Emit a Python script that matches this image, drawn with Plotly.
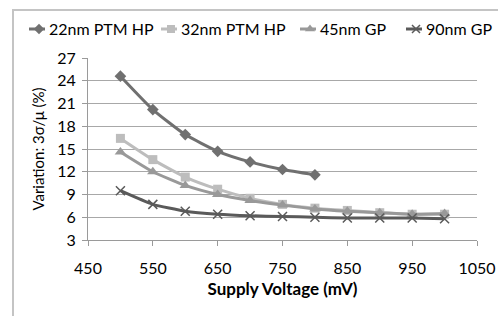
import plotly.graph_objects as go

# ---- data ----
voltage = [500, 550, 600, 650, 700, 750, 800, 850, 900, 950, 1000]
v22 = [24.6, 20.2, 16.9, 14.7, 13.3, 12.3, 11.6]
v32 = [16.4, 13.6, 11.3, 9.7, 8.5, 7.7, 7.2, 6.9, 6.6, 6.4, 6.4]
v45 = [14.6, 12.0, 10.2, 9.0, 8.2, 7.6, 7.1, 6.8, 6.6, 6.4, 6.5]
v90 = [9.5, 7.7, 6.8, 6.4, 6.2, 6.1, 6.0, 5.9, 5.9, 5.9, 5.8]
names = ["22nm PTM HP", "32nm PTM HP", "45nm GP", "90nm GP"]
x_ticks = [450, 550, 650, 750, 850, 950, 1050]
y_ticks = [3, 6, 9, 12, 15, 18, 21, 24, 27]

# ---- styling ----
FONT = "Lato"
colors = ["#707070", "#bdbdbd", "#999999", "#5a5a5a"]
symbols = ["diamond", "square", "triangle-up", "x-thin"]
msizes = [9, 9, 10, 9]
series_y = [v22, v32, v45, v90]

W, H = 498, 316
L, R, T, B = 15, 0, 12, 0
pw, ph = W - L - R, H - T - B
AX0, AX1, AY0, AY1 = 88, 477, 58, 240  # main chart area (pixels)
xdom = [(AX0 - L) / pw, (AX1 - L) / pw]
ydom = [(H - AY1) / ph, (H - AY0) / ph]
LY0, LY1 = 14, 44                    # legend strip (pixels)
legend_text_x = [47, 179, 318, 424]
LEG_Y = 29

fig = go.Figure()
for i, name in enumerate(names):
    ys = series_y[i]
    marker = dict(symbol=symbols[i], size=msizes[i], color=colors[i])
    if symbols[i] == "x-thin":
        marker["line"] = dict(width=1.5, color=colors[i])
    fig.add_trace(go.Scatter(
        x=voltage[:len(ys)], y=ys, name=name, mode="lines+markers",
        line=dict(color=colors[i], width=3, shape="spline", smoothing=0.5),
        marker=marker, showlegend=False, xaxis="x", yaxis="y",
    ))
    tx = legend_text_x[i]
    fig.add_trace(go.Scatter(
        x=[tx - 18, tx - 2], y=[LEG_Y, LEG_Y], mode="lines",
        line=dict(color=colors[i], width=3), showlegend=False,
        hoverinfo="skip", xaxis="x2", yaxis="y2", cliponaxis=False,
    ))
    fig.add_trace(go.Scatter(
        x=[tx - 8], y=[LEG_Y], mode="markers", marker=dict(marker, size=msizes[i] - 1),
        showlegend=False, hoverinfo="skip", xaxis="x2", yaxis="y2", cliponaxis=False,
    ))
    fig.add_annotation(x=tx, y=LEG_Y, xref="x2", yref="y2", text=name,
                       showarrow=False, xanchor="left", yanchor="middle",
                       font=dict(family=FONT, size=16, color="#000000"))

fig.update_layout(
    width=W, height=H,
    margin=dict(l=L, r=R, t=T, b=B, autoexpand=False),
    paper_bgcolor="white", plot_bgcolor="rgba(0,0,0,0)",
    font=dict(family=FONT, size=16, color="#000000"),
    showlegend=False,
    xaxis=dict(domain=xdom, anchor="y", range=[450, 1050], tickvals=x_ticks,
               ticktext=[str(v) for v in x_ticks],
               showgrid=False, zeroline=False, showline=True, linecolor="#9a9a9a", linewidth=1,
               ticks="outside", ticklen=5, tickcolor="#9a9a9a", ticklabelstandoff=9,
               title=dict(text="<b>Supply Voltage (mV)</b>", font=dict(size=17, family=FONT), standoff=6),
               tickfont=dict(size=16)),
    yaxis=dict(domain=ydom, anchor="x", range=[3, 27], tickvals=y_ticks,
               ticktext=[str(v) for v in y_ticks],
               showgrid=True, gridcolor="#a8a8a8", gridwidth=1, zeroline=False,
               showline=True, linecolor="#9a9a9a", linewidth=1,
               ticks="outside", ticklen=5, tickcolor="#9a9a9a", ticklabelstandoff=3,
               title=dict(text="Variation: 3σ/μ (%)", font=dict(size=15, family=FONT), standoff=8),
               tickfont=dict(size=16)),
    xaxis2=dict(domain=[0, 1], anchor="y2", range=[L, W - R], visible=False, fixedrange=True),
    yaxis2=dict(domain=[(H - LY1) / ph, (H - LY0) / ph], anchor="x2",
                range=[LY1, LY0], visible=False, fixedrange=True),
)

# outer chart frame (left and top edges), drawn as a page overlay
post = (
    "document.body.style.margin='0';"
    "var f=document.createElement('div');"
    "f.style.cssText='position:absolute;left:12px;top:9px;width:600px;height:400px;"
    "border-left:2px solid #c4c4c4;border-top:2px solid #c4c4c4;pointer-events:none;z-index:10;';"
    "document.body.appendChild(f);"
    "document.body.style.overflow='hidden';"
)
fig.write_html("out.html", config={"displayModeBar": False}, post_script=post)
